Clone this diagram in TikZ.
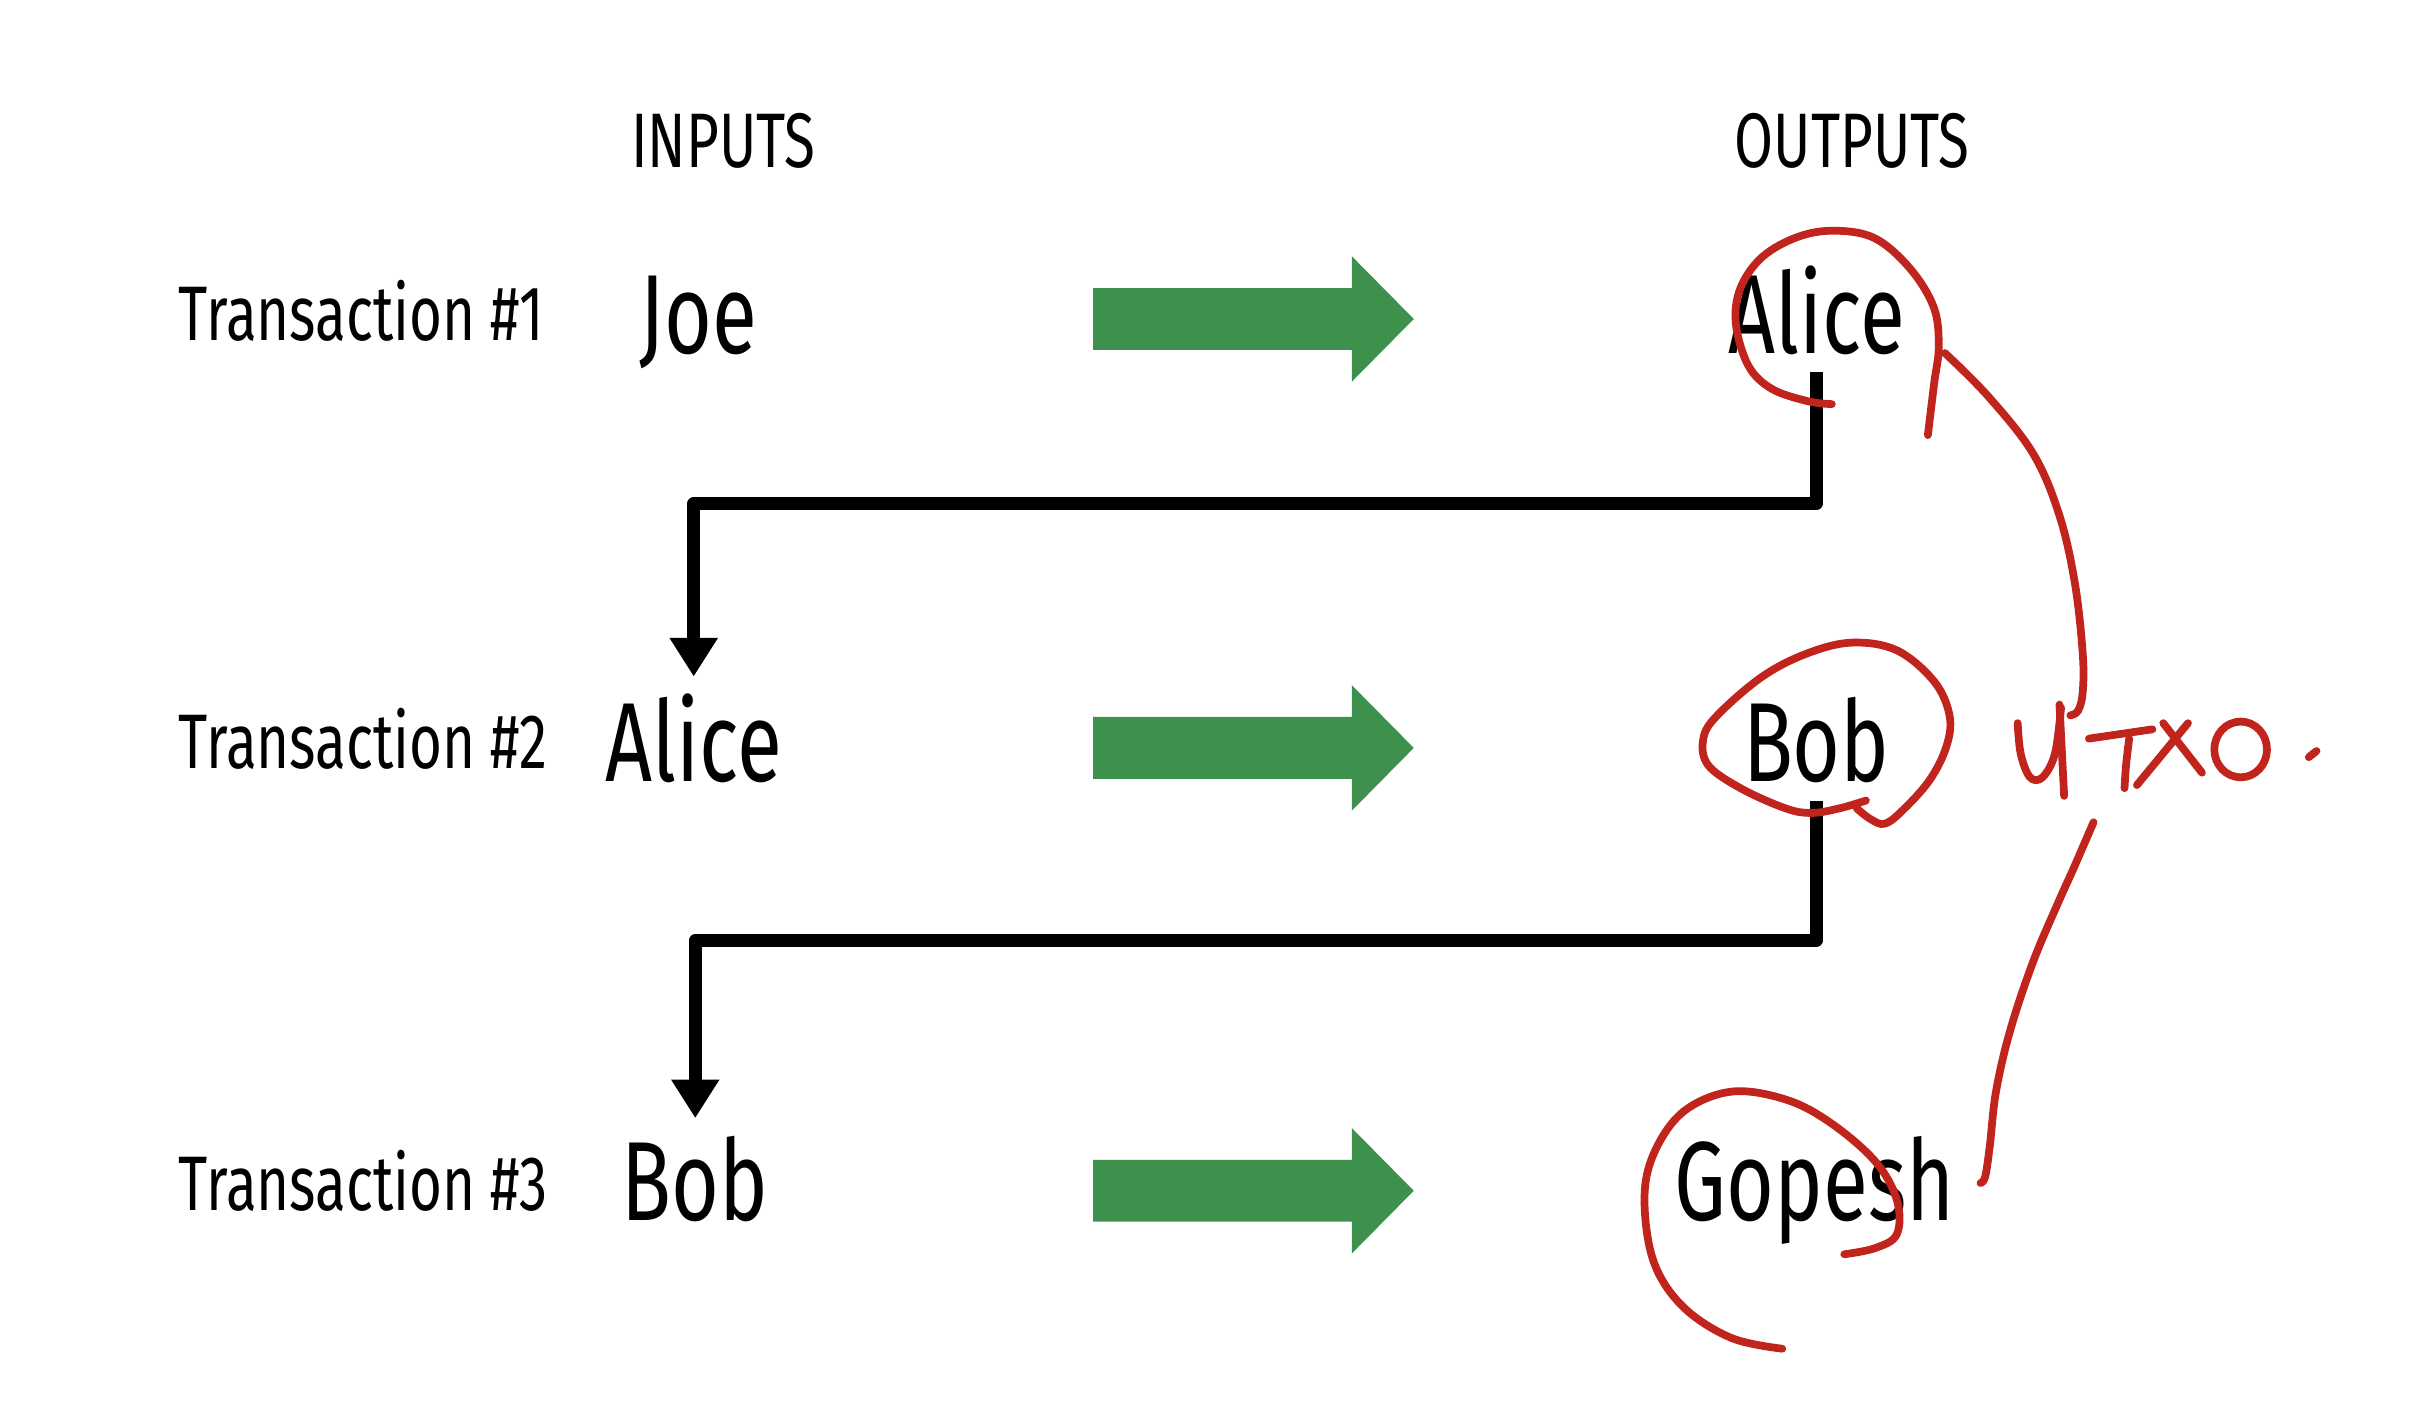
\documentclass[tikz,border=0pt]{standalone}
\usepackage{fontspec}
\setmainfont[FakeStretch=0.73]{Fira Sans}
\usetikzlibrary{arrows.meta, positioning, calc}
\definecolor{flowgreen}{RGB}{62, 145, 77}
\definecolor{inkred}{RGB}{192, 36, 28}
\tikzset{
  colhead/.style  = {anchor=base, inner sep=0pt, font=\fontsize{22}{26}\selectfont},
  rowlbl/.style   = {anchor=base west, inner sep=0pt, font=\fontsize{22}{26}\selectfont},
  who/.style      = {anchor=base, inner sep=0.17cm, font=\fontsize{32}{36}\selectfont},
  link/.style     = {-{Triangle[width=13pt,length=11pt]}, line width=3.6pt, line join=round},
  bigarrow/.style = {fill=flowgreen},
  ink/.style      = {inkred, line width=2.2pt, line cap=round, line join=round},
}

\begin{document}
\begin{tikzpicture}[x=0.015485cm, y=-0.015485cm]
  \useasboundingbox (0,0) rectangle (1568,908);

  % column headers
  \node[colhead] (inputs)  at (467,108)  {INPUTS};
  \node[colhead] (outputs) at (1196,108) {OUTPUTS};

  % rows
  \node[rowlbl] (trans1) at (115,220) {Transaction \#1};
  \node[rowlbl] (trans2) at (115,496) {Transaction \#2};
  \node[rowlbl] (trans3) at (115,782) {Transaction \#3};

  \node[who] (joe)      at (451,228)  {Joe};
  \node[who] (aliceout) at (1173,228) {Alice};
  \node[who] (alicein)  at (448,505)  {Alice};
  \node[who] (bobout)   at (1173,505) {Bob};
  \node[who] (bobin)    at (449,788)  {Bob};
  \node[who] (gopesh)   at (1172,788) {Gopesh};

  % green block arrows
  \foreach \y in {206,483,769}
    \fill[bigarrow] (706,\y-20) -- (873,\y-20) -- (873,\y-40.5) -- (913,\y)
      -- (873,\y+40.5) -- (873,\y+20) -- (706,\y+20) -- cycle;

  % outputs spent as next inputs
  \draw[link] (aliceout.south) -- ++(0,85) -| (alicein.north);
  \draw[link] (bobout.south) -- ++(0,90) -| (bobin.north);

  % handwritten notes
  \draw[ink] plot[smooth, tension=0.6] coordinates {(1183,261) (1167,259) (1144,251) (1129,236) (1121,209) (1124,186) (1138,166) (1161,153) (1185,149) (1211,154) (1234,174) (1249,199) (1252,224) (1249,248) (1245,281)};
  \draw[ink] plot[smooth, tension=0.6] coordinates {(1256,228) (1284,256) (1313,293) (1330,333) (1340,377) (1345,422) (1345,447) (1342,459) (1337,462)};
  \draw[ink] plot[smooth, tension=0.6] coordinates {(1205,517) (1188,522) (1170,525) (1153,522) (1124,509) (1103,494) (1100,477) (1109,462) (1138,437) (1167,422) (1196,415) (1225,420) (1249,440) (1259,462) (1257,482) (1246,504) (1228,524) (1217,532) (1208,529) (1199,522)};
  \draw[ink] plot[smooth, tension=0.6] coordinates {(1352,531) (1339,561) (1330,581) (1313,621) (1298,666) (1289,705) (1285,740) (1282,760) (1279,764)};
  \draw[ink] plot[smooth, tension=0.6] coordinates {(1191,810) (1211,806) (1225,797) (1225,775) (1211,750) (1182,725) (1153,710) (1118,705) (1087,718) (1068,745) (1062,775) (1068,815) (1087,844) (1118,864) (1151,871)};

  % UTXO .
  \draw[ink] plot[smooth, tension=0.6] coordinates {(1303,467) (1305,487) (1311,502) (1319,502) (1327,487) (1331,457)};
  \draw[ink] (1330,455) -- (1333,514);
  \draw[ink] (1349,477) -- (1390,471);
  \draw[ink] plot[smooth, tension=0.6] coordinates {(1375,477) (1373,494) (1372,509)};
  \draw[ink] (1380,507) -- (1413,467);
  \draw[ink] (1397,467) -- (1422,499);
  \draw[ink] (1447,484) ellipse [x radius=17, y radius=18];
  \draw[ink] (1491,489) -- (1496,485);
\end{tikzpicture}
\end{document}
